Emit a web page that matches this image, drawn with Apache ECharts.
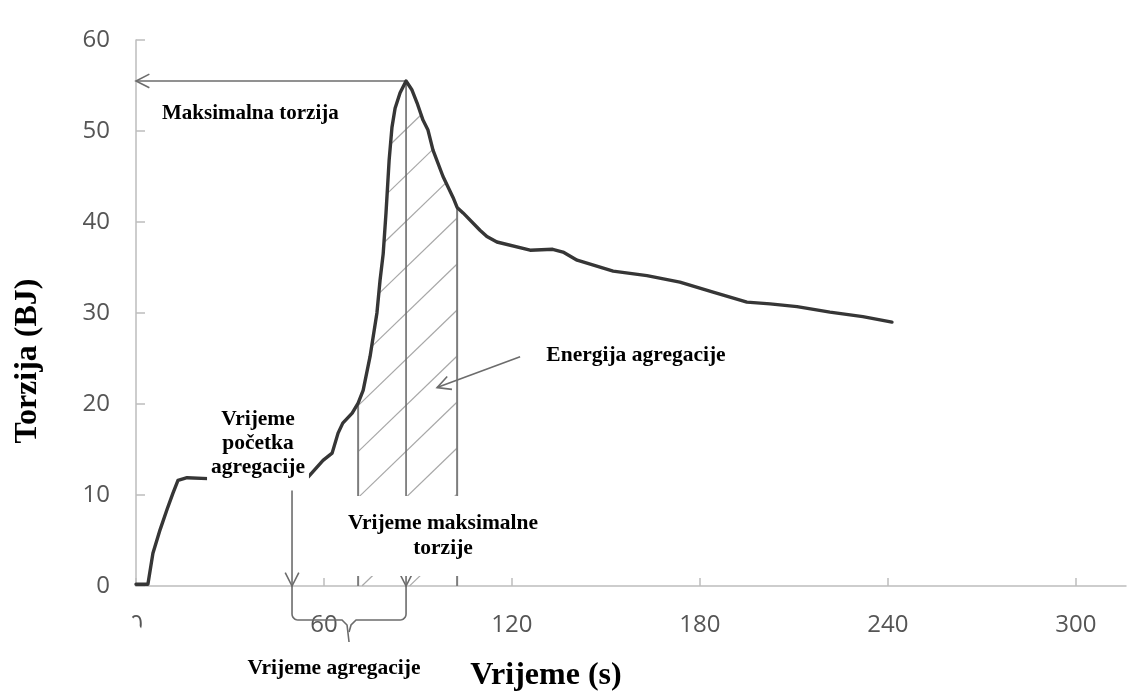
<!DOCTYPE html>
<html><head><meta charset="utf-8">
<script src="https://cdn.jsdelivr.net/npm/echarts@6/dist/echarts.min.js"></script>
<style>html,body{margin:0;padding:0;background:#fff}#c{width:1128px;height:691px}</style>
</head><body><div id="c"></div>
<script>
// ---- data ----
const timeS  = [0, 3.8, 5.4, 7.7, 9.9, 11.8, 13.4, 16.3, 23, 55, 59.7, 62.6, 64.5, 66, 69, 70.9, 72.5, 74.7, 76.9, 77.9, 78.9, 79.8, 80.8, 81.7, 82.7, 84.3, 86.2, 88.1, 89.7, 91.6, 93.2, 94.8, 98, 101.2, 102.5, 104.4, 109.8, 112, 115.2, 125.8, 133, 136.3, 140.8, 152.3, 163.1, 173.6, 184.2, 195, 202.4, 211, 221.5, 232, 241.3];
const torque = [0.2, 0.2, 3.6, 6.2, 8.4, 10.2, 11.6, 11.9, 11.8, 12, 13.8, 14.6, 16.8, 17.9, 19, 20.1, 21.5, 25.2, 30, 33.6, 36.5, 41, 46.8, 50.4, 52.5, 54.2, 55.5, 54.5, 53.1, 51.2, 50.1, 47.9, 45, 42.7, 41.6, 41, 39.1, 38.4, 37.8, 36.9, 37, 36.7, 35.8, 34.6, 34.1, 33.4, 32.3, 31.2, 31, 30.7, 30.1, 29.6, 29];
const xTickValues = [0, 60, 120, 180, 240, 300];
const yTickValues = [0, 10, 20, 30, 40, 50, 60];
const onsetTime = 49.8;        // Vrijeme početka agregacije
const onsetArrowTop = 10.5;
const hatchStart = 70.9;
const peakTime = 86.2;         // Vrijeme maksimalne torzije
const peakTorque = 55.5;       // Maksimalna torzija
const hatchEnd = 102.5;
const energyArrowFrom = [122.6, 25.2];
const energyArrowTo = [96.1, 21.8];

const SERIF = '"Liberation Serif", "Times New Roman", serif';
const curveData = timeS.map((t, i) => [t, torque[i]]);
function torqueAt(t) { return torque[timeS.indexOf(t)]; }

function renderAnnotations(params, api) {
  const P = (x, y) => api.coord([x, y]);
  const kids = [];
  const stroke = '#6c6c6c';
  const seg = (a, b, w, c) => kids.push({type: 'line', shape: {x1: a[0], y1: a[1], x2: b[0], y2: b[1]}, style: {stroke: c || stroke, lineWidth: w || 1.6}});
  const head = (tip, from) => {
    const dx = tip[0] - from[0], dy = tip[1] - from[1], L = Math.hypot(dx, dy);
    const ux = dx / L, uy = dy / L, a = 27 * Math.PI / 180, len = 15, p = [];
    [1, -1].forEach(s => {
      const c = Math.cos(s * a), sn = Math.sin(s * a);
      const rx = ux * c - uy * sn, ry = ux * sn + uy * c;
      p.push([tip[0] - rx * len, tip[1] - ry * len]);
    });
    kids.push({type: 'polyline', shape: {points: [p[0], tip, p[1]]}, style: {stroke, lineWidth: 1.6, fill: null}});
  };
  const arrow = (a, b) => { seg(a, b); head(b, a); };

  // hatch lines under the curve between hatchStart and hatchEnd
  const pts = curveData.map(d => P(d[0], d[1]));
  const curveY = x => {
    for (let i = 0; i < pts.length - 1; i++) {
      if (pts[i][0] <= x && x <= pts[i + 1][0]) {
        const f = (x - pts[i][0]) / (pts[i + 1][0] - pts[i][0] || 1);
        return pts[i][1] + f * (pts[i + 1][1] - pts[i][1]);
      }
    }
    return Infinity;
  };
  const xs = P(hatchStart, 0)[0], xe = P(hatchEnd, 0)[0], y0 = P(0, 0)[1];
  const tanT = Math.tan(44 * Math.PI / 180), gap = 46;
  const yTop = P(peakTime, peakTorque)[1];
  for (let c = y0 + (xe - xs) * tanT; c > yTop; c -= gap) {
    let run = null, last = null;
    for (let x = xs; x <= xe + 0.01; x += 0.5) {
      const y = c - (x - xs) * tanT;
      const inside = y <= y0 && y >= curveY(x) + 1;
      if (inside) { if (!run) run = [x, y]; last = [x, y]; }
      else if (run) { seg(run, last, 1.2, '#a8a8a8'); run = null; }
    }
    if (run) seg(run, last, 1.2, '#a8a8a8');
  }
  // vertical boundaries
  seg(P(hatchStart, 0), P(hatchStart, torqueAt(hatchStart)), 2, '#7d7d7d');
  seg(P(hatchEnd, 0), P(hatchEnd, torqueAt(hatchEnd)), 2, '#7d7d7d');
  // peak arrows
  arrow(P(peakTime, peakTorque), P(peakTime, 0));
  arrow(P(peakTime, peakTorque), P(0, peakTorque));
  // onset arrow
  arrow(P(onsetTime, onsetArrowTop), P(onsetTime, 0));
  // energy arrow
  arrow(P(energyArrowFrom[0], energyArrowFrom[1]), P(energyArrowTo[0], energyArrowTo[1]));
  // brace under axis (aggregation time)
  const xa = P(onsetTime, 0)[0], xb = P(peakTime, 0)[0], xm = (xa + xb) / 2;
  const r = 6, h = 34;
  const brace = [[xa, y0], [xa, y0 + h - r]];
  for (let k = 1; k <= 6; k++) { const t = k / 6 * Math.PI / 2; brace.push([xa + r - r * Math.cos(t), y0 + h - r + r * Math.sin(t)]); }
  brace.push([xm - 7, y0 + h], [xm - 2, y0 + h + 5], [xm, y0 + h + 22]);
  kids.push({type: 'polyline', shape: {points: brace}, style: {stroke, lineWidth: 1.6, fill: null}});
  const brace2 = [[xb, y0], [xb, y0 + h - r]];
  for (let k = 1; k <= 6; k++) { const t = k / 6 * Math.PI / 2; brace2.push([xb - r + r * Math.cos(t), y0 + h - r + r * Math.sin(t)]); }
  brace2.push([xm + 7, y0 + h], [xm + 2, y0 + h + 5], [xm, y0 + h + 12]);
  kids.push({type: 'polyline', shape: {points: brace2}, style: {stroke, lineWidth: 1.6, fill: null}});
  return {type: 'group', children: kids};
}

const chart = echarts.init(document.getElementById('c'), null, {renderer: 'canvas'});
const axisGray = '#bdbdbd';
const labelFont = {fontSize: 24, color: '#555555', fontFamily: '"Open Sans", "Noto Sans", sans-serif'};
const txt = (x, y, text, size, extra) => Object.assign({
  type: 'text', x, y, z: 100,
  style: Object.assign({text, font: 'bold ' + size + 'px ' + SERIF, fill: '#000', align: 'center', verticalAlign: 'middle'}, extra || {})
});
chart.setOption({
  animation: false,
  backgroundColor: '#fff',
  grid: {left: 136, right: 2, top: 40, bottom: 105},
  xAxis: {
    type: 'value', min: 0, max: 316, interval: 60,
    axisLine: {lineStyle: {color: axisGray, width: 1.5}},
    axisTick: {show: true, inside: true, length: 8, lineStyle: {color: axisGray, width: 1.5}, customValues: xTickValues},
    axisLabel: Object.assign({margin: 27, customValues: xTickValues}, labelFont),
    splitLine: {show: false}
  },
  yAxis: {
    type: 'value', min: 0, max: 60, interval: 10,
    axisLine: {show: true, lineStyle: {color: axisGray, width: 1.5}},
    axisTick: {show: true, inside: true, length: 9, lineStyle: {color: axisGray, width: 1.5}},
    axisLabel: Object.assign({margin: 26, customValues: yTickValues}, labelFont),
    splitLine: {show: false}
  },
  series: [
    {type: 'custom', renderItem: renderAnnotations, data: [[0, 0]], silent: true, z: 3, clip: false},
    {type: 'line', data: curveData, showSymbol: false, smooth: false, z: 4, silent: true,
     lineStyle: {color: '#363636', width: 3.4, cap: 'round', join: 'round'}}
  ],
  graphic: [
    {type: 'circle', shape: {cx: 90, cy: 660, r: 60}, style: {fill: '#fff'}, z: 100},
    txt(162, 114, 'Maksimalna torzija', 21, {align: 'left'}),
    txt(258, 443, 'Vrijeme\npočetka\nagregacije', 21.5, {lineHeight: 24, backgroundColor: '#fff', padding: [8, 4, 9, 4]}),
    txt(443, 536, 'Vrijeme maksimalne\ntorzije', 21.5, {lineHeight: 25, backgroundColor: '#fff', padding: [13, 7, 17, 7]}),
    txt(636, 355, 'Energija agregacije', 21.5),
    txt(334, 668, 'Vrijeme agregacije', 21.5),
    txt(546, 676, 'Vrijeme (s)', 32),
    {type: 'text', x: 28, y: 361, rotation: Math.PI / 2, z: 100,
     style: {text: 'Torzija (BJ)', font: 'bold 32px ' + SERIF, fill: '#000', align: 'center', verticalAlign: 'middle'}}
  ]
});
</script>
</body></html>
